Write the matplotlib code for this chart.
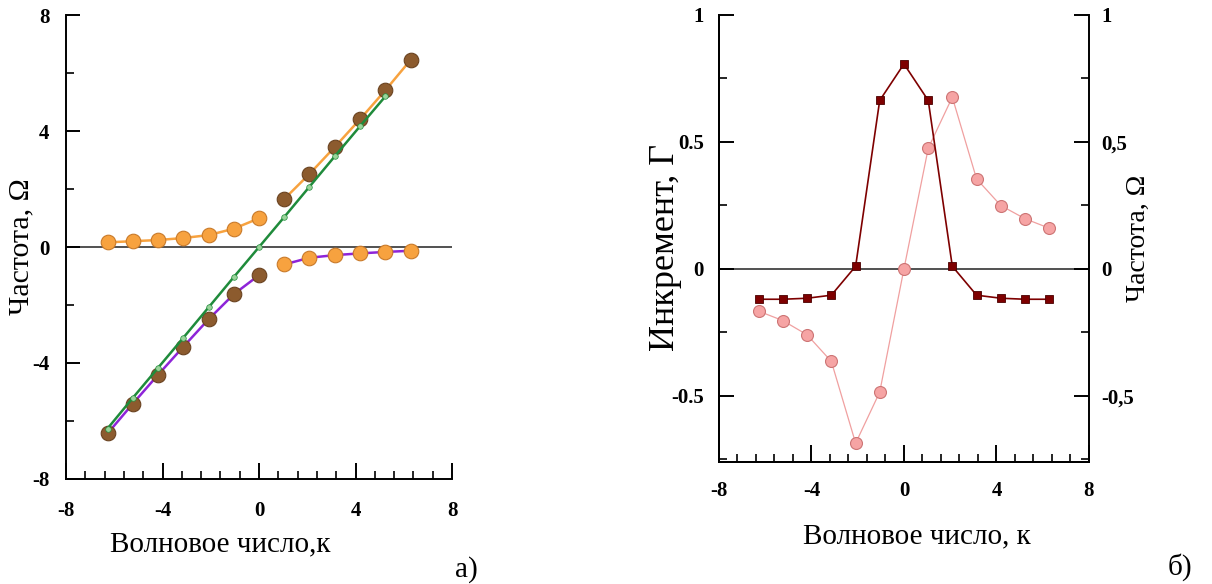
import matplotlib
matplotlib.use("Agg")
import matplotlib.pyplot as plt
from matplotlib.ticker import MultipleLocator, FixedLocator, FixedFormatter

plt.rcParams['font.family'] = ['Liberation Serif', 'DejaVu Serif']
plt.rcParams['axes.unicode_minus'] = False

# wave numbers
k = [-6.28, -5.24, -4.19, -3.14, -2.09, -1.05, 0.0, 1.05, 2.09, 3.14, 4.19, 5.24, 6.28]
k_neg = k[:7]          # k <= 0
k_pos = k[7:]          # k > 0

# panel a) - frequencies
omega_line = [-6.26, -5.21, -4.17, -3.13, -2.08, -1.04, 0.0, 1.04, 2.08, 3.13, 4.17, 5.2]
upper_neg = [0.16, 0.2, 0.24, 0.31, 0.41, 0.63, 0.99]
upper_pos = [1.66, 2.52, 3.45, 4.41, 5.41, 6.45]
lower_neg = [-6.43, -5.41, -4.41, -3.44, -2.49, -1.63, -0.97]
lower_pos = [-0.6, -0.37, -0.28, -0.22, -0.17, -0.13]

# panel b) - increment and frequency
gamma = [-0.12, -0.12, -0.116, -0.104, 0.01, 0.663, 0.807, 0.663, 0.01, -0.104, -0.116, -0.12, -0.12]
omega_b = [-0.167, -0.204, -0.26, -0.365, -0.687, -0.486, 0.0, 0.475, 0.676, 0.354, 0.249, 0.197, 0.16]

ORANGE, ORANGE_E = '#F7A23F', '#C97A2A'
BROWN, BROWN_E = '#8C5B2E', '#6A4220'
GREEN, GREEN_M = '#1F8B3B', '#9AD49A'
PURPLE = '#8E24D8'
DARKRED = '#7E0000'
PINK, PINK_E, PINK_L = '#F6A4A4', '#CC7474', '#F0A0A0'

fig = plt.figure(figsize=(12.12, 5.84), dpi=100)

# ---------- panel a ----------
ax1 = fig.add_axes([0.0545, 0.1798, 0.3185, 0.7945])
ax1.axhline(0, color='#222222', lw=1.1, zorder=1)
ax1.plot(k_neg, upper_neg, '-o', color=ORANGE, lw=1.8, ms=10.5,
         mfc=ORANGE, mec=ORANGE_E, mew=0.8, zorder=3)
ax1.plot(k_pos, upper_pos, '-o', color=ORANGE, lw=1.8, ms=10.5,
         mfc=BROWN, mec=BROWN_E, mew=0.8, zorder=3)
ax1.plot(k_neg, lower_neg, '-o', color=PURPLE, lw=1.8, ms=10.5,
         mfc=BROWN, mec=BROWN_E, mew=0.8, zorder=3)
ax1.plot(k_pos, lower_pos, '-o', color=PURPLE, lw=1.8, ms=10.5,
         mfc=ORANGE, mec=ORANGE_E, mew=0.8, zorder=3)
ax1.plot(k[:-1], omega_line, '-o', color=GREEN, lw=1.8, ms=4,
         mfc=GREEN_M, mec=GREEN, mew=0.5, zorder=4)

ax1.set_xlim(-8, 8)
ax1.set_ylim(-8, 8)
ax1.xaxis.set_major_locator(MultipleLocator(4))
ax1.xaxis.set_minor_locator(MultipleLocator(0.8))
ax1.yaxis.set_major_locator(MultipleLocator(4))
ax1.yaxis.set_minor_locator(MultipleLocator(2))
for s in ['top', 'right']:
    ax1.spines[s].set_visible(False)
for s in ['left', 'bottom']:
    ax1.spines[s].set_linewidth(1.4)
ax1.tick_params(axis='y', which='major', direction='in', length=10, width=1.4, pad=12, labelsize=15)
ax1.tick_params(axis='y', which='minor', direction='in', length=6, width=1.2)
ax1.tick_params(axis='x', which='major', direction='in', length=11.5, width=1.4, pad=16, labelsize=15)
ax1.tick_params(axis='x', which='minor', direction='in', length=6, width=1.2)
for lab in ax1.get_xticklabels() + ax1.get_yticklabels():
    lab.set_fontweight('bold')
ax1.set_ylabel('Частота, Ω', fontsize=21.5)
ax1.yaxis.set_label_coords(-0.083, 0.5)
ax1.set_xlabel('Волновое число,к', fontsize=21)
ax1.xaxis.set_label_coords(0.399, -0.112)
fig.text(0.375, 0.024, 'а)', fontsize=21, va='center')

# ---------- panel b ----------
ax2 = fig.add_axes([0.5932, 0.2094, 0.3053, 0.765])
ax3 = ax2.twinx()
ax2.axhline(0, color='#222222', lw=1.1, zorder=1)
ax2.plot(k, omega_b, '-o', color=PINK_L, lw=0.9, ms=8.6,
         mfc=PINK, mec=PINK_E, mew=0.8, zorder=3)
ax2.plot(k, gamma, '-s', color=DARKRED, lw=1.2, ms=6,
         mfc=DARKRED, mec='#4A0000', mew=0.6, zorder=4)

ylim_b = (-0.76, 1.0)
ax2.set_xlim(-8, 8)
ax2.set_ylim(*ylim_b)
ax3.set_ylim(*ylim_b)
ax2.xaxis.set_major_locator(MultipleLocator(4))
ax2.xaxis.set_minor_locator(MultipleLocator(0.8))
yt = [-0.5, 0, 0.5, 1]
ax2.yaxis.set_major_locator(FixedLocator(yt))
ax2.yaxis.set_major_formatter(FixedFormatter(['-0.5', '0', '0.5', '1']))
ax2.yaxis.set_minor_locator(MultipleLocator(0.25))
ax3.yaxis.set_major_locator(FixedLocator(yt))
ax3.yaxis.set_major_formatter(FixedFormatter(['-0,5', '0', '0,5', '1']))
ax3.yaxis.set_minor_locator(MultipleLocator(0.25))
for a in (ax2, ax3):
    a.spines['top'].set_visible(False)
    for s in ['left', 'right', 'bottom']:
        a.spines[s].set_linewidth(1.4)
ax2.spines['right'].set_visible(False)
ax2.tick_params(axis='y', which='major', direction='in', length=11, width=1.4, pad=11, labelsize=15)
ax2.tick_params(axis='y', which='minor', direction='in', length=6, width=1.2)
ax2.tick_params(axis='x', which='major', direction='in', length=12, width=1.4, pad=14, labelsize=15)
ax2.tick_params(axis='x', which='minor', direction='in', length=6, width=1.2)
ax3.tick_params(axis='y', which='major', direction='in', length=11, width=1.4, pad=9, labelsize=15)
ax3.tick_params(axis='y', which='minor', direction='in', length=6, width=1.2)
for lab in ax2.get_xticklabels() + ax2.get_yticklabels() + ax3.get_yticklabels():
    lab.set_fontweight('bold')
ax2.set_ylabel('Инкремент, Г', fontsize=26)
ax2.yaxis.set_label_coords(-0.10, 0.48)
ax3.set_ylabel('Частота, Ω', fontsize=20)
ax3.yaxis.set_label_coords(1.1, 0.5)
ax2.set_xlabel('Волновое число, к', fontsize=21)
ax2.xaxis.set_label_coords(0.535, -0.137)
fig.text(0.963, 0.029, 'б)', fontsize=21, va='center')

fig.savefig('out.png', dpi=100)
